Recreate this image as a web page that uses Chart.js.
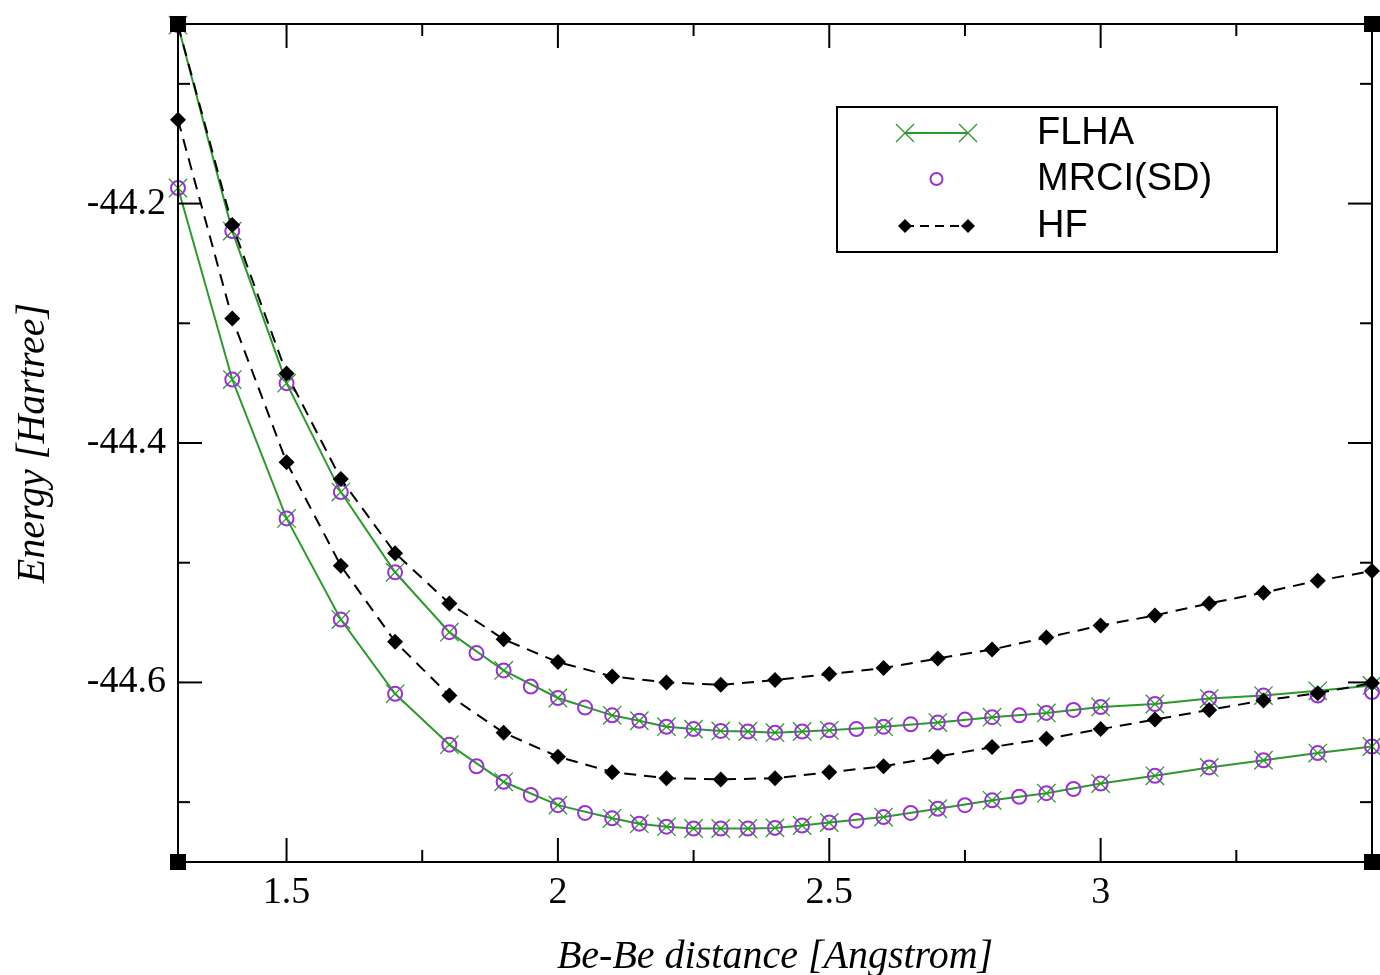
<!DOCTYPE html>
<html>
<head>
<meta charset="utf-8">
<script src="https://cdn.jsdelivr.net/npm/chart.js@4/dist/chart.umd.min.js"></script>
<style>
  html, body { margin: 0; padding: 0; background: #fff; overflow: hidden; }
  #wrap { width: 1380px; height: 975px; position: relative; }
  canvas { display: block; }
</style>
</head>
<body>
<div id="wrap"><canvas id="energyChart"></canvas></div>
<script>
// Be-Be distance grids (Angstrom)
const xFLHA = [1.3, 1.4, 1.5, 1.6, 1.7, 1.8, 1.9, 2.0, 2.1, 2.15, 2.2, 2.25, 2.3, 2.35, 2.4, 2.45, 2.5,
               2.6, 2.7, 2.8, 2.9, 3.0, 3.1, 3.2, 3.3, 3.4, 3.5];
const xMRCI = [1.3, 1.4, 1.5, 1.6, 1.7, 1.8, 1.85, 1.9, 1.95, 2.0, 2.05, 2.1, 2.15, 2.2, 2.25, 2.3, 2.35,
               2.4, 2.45, 2.5, 2.55, 2.6, 2.65, 2.7, 2.75, 2.8, 2.85, 2.9, 2.95, 3.0, 3.1, 3.2, 3.3, 3.4, 3.5];
const xHF = [1.3, 1.4, 1.5, 1.6, 1.7, 1.8, 1.9, 2.0, 2.1, 2.2, 2.3, 2.4, 2.5, 2.6, 2.7, 2.8, 2.9,
             3.0, 3.1, 3.2, 3.3, 3.4, 3.5];

// Energies (Hartree), upper and lower curves
const flhaUpper = [-44.051, -44.223, -44.350, -44.441, -44.508, -44.558, -44.590, -44.613, -44.6275, -44.632,
                   -44.637, -44.639, -44.6405, -44.641, -44.642, -44.641, -44.640, -44.637, -44.6335, -44.629,
                   -44.6255, -44.6205, -44.618, -44.6135, -44.611, -44.607, -44.6025];
const flhaLower = [-44.187, -44.347, -44.463, -44.5475, -44.6095, -44.652, -44.683, -44.7025, -44.7135, -44.718,
                   -44.7205, -44.722, -44.722, -44.722, -44.7215, -44.7195, -44.717, -44.7125, -44.7055, -44.6985,
                   -44.6925, -44.6845, -44.678, -44.671, -44.665, -44.659, -44.6535];
const mrciUpper = [-44.051, -44.223, -44.350, -44.441, -44.508, -44.558, -44.5755, -44.590, -44.6035, -44.613,
                   -44.621, -44.6275, -44.632, -44.637, -44.639, -44.6405, -44.641, -44.642, -44.641, -44.640,
                   -44.639, -44.637, -44.635, -44.6335, -44.631, -44.629, -44.6275, -44.6255, -44.623, -44.6205,
                   -44.618, -44.6135, -44.611, -44.611, -44.608];
const mrciLower = [-44.187, -44.347, -44.463, -44.5475, -44.6095, -44.652, -44.670, -44.683, -44.694, -44.7025,
                   -44.709, -44.7135, -44.718, -44.7205, -44.722, -44.722, -44.722, -44.7215, -44.7195, -44.717,
                   -44.7155, -44.7125, -44.709, -44.7055, -44.7025, -44.6985, -44.6955, -44.6925, -44.689, -44.6845,
                   -44.678, -44.671, -44.665, -44.659, -44.6535];
const hfUpper = [-44.051, -44.218, -44.342, -44.430, -44.492, -44.534, -44.564, -44.583, -44.595, -44.600,
                 -44.602, -44.598, -44.593, -44.588, -44.580, -44.5725, -44.5625, -44.5525, -44.544, -44.534,
                 -44.525, -44.515, -44.507];
const hfLower = [-44.130, -44.296, -44.416, -44.5025, -44.566, -44.611, -44.642, -44.662, -44.675, -44.680,
                 -44.681, -44.680, -44.675, -44.670, -44.662, -44.654, -44.647, -44.639, -44.631, -44.623,
                 -44.615, -44.609, -44.6005];

// Axis ticks
const xMajorTicks = [1.5, 2, 2.5, 3];
const xMinorTicks = [1.75, 2.25, 2.75, 3.25];
const yMajorTicks = [-44.2, -44.4, -44.6];
const yMinorTicks = [-44.1, -44.3, -44.5, -44.7];

const GREEN = '#2a9a2a';
const VIOLET = '#9b30d9';
const SERIF = '"Liberation Serif", "Times New Roman", serif';

const pairUp = (xs, ys) => xs.map((x, i) => ({ x: x, y: ys[i] }));

function flhaSet(ys) {
    return {
        label: 'FLHA', data: pairUp(xFLHA, ys), order: 3,
        borderColor: GREEN, borderWidth: 2, backgroundColor: GREEN,
        pointStyle: 'crossRot', pointRadius: 13, pointBorderWidth: 1.3,
        pointBorderColor: GREEN, tension: 0, clip: false
    };
}
function mrciSet(ys) {
    return {
        label: 'MRCI(SD)', data: pairUp(xMRCI, ys), order: 2, showLine: false,
        pointStyle: 'circle', pointRadius: 7, pointBorderWidth: 2,
        pointBorderColor: VIOLET, pointBackgroundColor: 'rgba(0,0,0,0)', clip: false
    };
}
function hfSet(ys) {
    return {
        label: 'HF', data: pairUp(xHF, ys), order: 1,
        borderColor: '#000', borderWidth: 2, borderDash: [12, 8], backgroundColor: '#000',
        pointStyle: 'rectRot', pointRadius: 8, pointBorderWidth: 0,
        pointBackgroundColor: '#000', tension: 0, clip: false
    };
}

// Frame, inward ticks on all four sides, and corner handles
const framePlugin = {
    id: 'frame',
    afterDraw(chart) {
        const { ctx, chartArea: a, scales: { x, y } } = chart;
        ctx.save();
        ctx.strokeStyle = '#000';
        ctx.lineWidth = 2;
        ctx.strokeRect(a.left, a.top, a.right - a.left, a.bottom - a.top);
        const seg = (x1, y1, x2, y2) => { ctx.beginPath(); ctx.moveTo(x1, y1); ctx.lineTo(x2, y2); ctx.stroke(); };
        const xt = (v, len) => {
            const px = x.getPixelForValue(v);
            seg(px, a.bottom, px, a.bottom - len);
            seg(px, a.top, px, a.top + len);
        };
        const yt = (v, len) => {
            const py = y.getPixelForValue(v);
            seg(a.left, py, a.left + len, py);
            seg(a.right, py, a.right - len, py);
        };
        xMajorTicks.forEach(v => xt(v, 24));
        xMinorTicks.forEach(v => xt(v, 12));
        yMajorTicks.forEach(v => yt(v, 24));
        yMinorTicks.forEach(v => yt(v, 12));
        ctx.fillStyle = '#000';
        [[a.left, a.top], [a.right, a.top], [a.left, a.bottom], [a.right, a.bottom]].forEach(([cx, cy]) => {
            ctx.fillRect(cx - 8, cy - 8, 16, 16);
        });
        ctx.restore();
    }
};

// Boxed legend in the upper right of the plot
const legendPlugin = {
    id: 'boxLegend',
    afterDraw(chart) {
        const { ctx, chartArea: a } = chart;
        const bx = a.left + 659, by = a.top + 83, bw = 440, bh = 145;
        const sx1 = bx + 68, sx2 = bx + 131, tx = bx + 200;
        const rows = [by + 26, by + 72, by + 119];
        ctx.save();
        ctx.fillStyle = '#fff';
        ctx.fillRect(bx, by, bw, bh);
        ctx.strokeStyle = '#000';
        ctx.lineWidth = 2;
        ctx.strokeRect(bx, by, bw, bh);

        // FLHA sample
        ctx.strokeStyle = GREEN;
        ctx.lineWidth = 2;
        ctx.beginPath(); ctx.moveTo(sx1, rows[0]); ctx.lineTo(sx2, rows[0]); ctx.stroke();
        ctx.lineWidth = 1.3;
        [sx1, sx2].forEach(cx => {
            ctx.beginPath();
            ctx.moveTo(cx - 9, rows[0] - 9); ctx.lineTo(cx + 9, rows[0] + 9);
            ctx.moveTo(cx - 9, rows[0] + 9); ctx.lineTo(cx + 9, rows[0] - 9);
            ctx.stroke();
        });

        // MRCI sample
        ctx.strokeStyle = VIOLET;
        ctx.lineWidth = 2;
        ctx.beginPath(); ctx.arc((sx1 + sx2) / 2, rows[1], 6, 0, Math.PI * 2); ctx.stroke();

        // HF sample
        ctx.strokeStyle = '#000';
        ctx.lineWidth = 2;
        ctx.setLineDash([9, 6]);
        ctx.beginPath(); ctx.moveTo(sx1, rows[2]); ctx.lineTo(sx2, rows[2]); ctx.stroke();
        ctx.setLineDash([]);
        ctx.fillStyle = '#000';
        [sx1, sx2].forEach(cx => {
            ctx.beginPath();
            ctx.moveTo(cx, rows[2] - 7); ctx.lineTo(cx + 7, rows[2]);
            ctx.lineTo(cx, rows[2] + 7); ctx.lineTo(cx - 7, rows[2]);
            ctx.closePath(); ctx.fill();
        });

        ctx.fillStyle = '#000';
        ctx.font = '38px "Liberation Sans", Arial, sans-serif';
        ctx.textBaseline = 'middle';
        ctx.textAlign = 'left';
        ['FLHA', 'MRCI(SD)', 'HF'].forEach((t, i) => ctx.fillText(t, tx, rows[i] + 1));
        ctx.restore();
    }
};

const tickFont = { family: SERIF, size: 38 };

new Chart(document.getElementById('energyChart'), {
    type: 'line',
    data: {
        datasets: [
            flhaSet(flhaUpper), flhaSet(flhaLower),
            mrciSet(mrciUpper), mrciSet(mrciLower),
            hfSet(hfUpper), hfSet(hfLower)
        ]
    },
    options: {
        responsive: true,
        maintainAspectRatio: false,
        animation: false,
        layout: { autoPadding: false, padding: { top: 24, right: 8, left: 0, bottom: 0 } },
        plugins: {
            legend: { display: false },
            tooltip: { enabled: false }
        },
        scales: {
            x: {
                type: 'linear',
                min: 1.3,
                max: 3.5,
                afterBuildTicks: scale => { scale.ticks = xMajorTicks.map(v => ({ value: v })); },
                afterFit: scale => {
                    scale.height = 113;
                    scale.paddingLeft = 0;
                    scale.paddingRight = 0;
                },
                grid: { display: false, drawTicks: false },
                border: { display: false },
                ticks: {
                    color: '#000', font: tickFont, padding: 8,
                    callback: v => String(v)
                },
                title: {
                    display: true,
                    text: 'Be-Be distance [Angstrom]',
                    color: '#000',
                    font: { family: SERIF, size: 40, style: 'italic', lineHeight: 0.9 },
                    padding: { top: 0, bottom: 0 }
                }
            },
            y: {
                type: 'linear',
                min: -44.75,
                max: -44.05,
                afterBuildTicks: scale => { scale.ticks = yMajorTicks.map(v => ({ value: v })); },
                afterFit: scale => {
                    scale.width = 178;
                    scale.paddingTop = 0;
                    scale.paddingBottom = 0;
                },
                grid: { display: false, drawTicks: false },
                border: { display: false },
                ticks: {
                    color: '#000', font: tickFont, padding: 12,
                    callback: v => String(v)
                },
                title: {
                    display: true,
                    text: 'Energy [Hartree]',
                    color: '#000',
                    font: { family: SERIF, size: 40, style: 'italic' },
                    padding: { top: 9, bottom: 0 }
                }
            }
        }
    },
    plugins: [framePlugin, legendPlugin]
});
</script>
</body>
</html>
